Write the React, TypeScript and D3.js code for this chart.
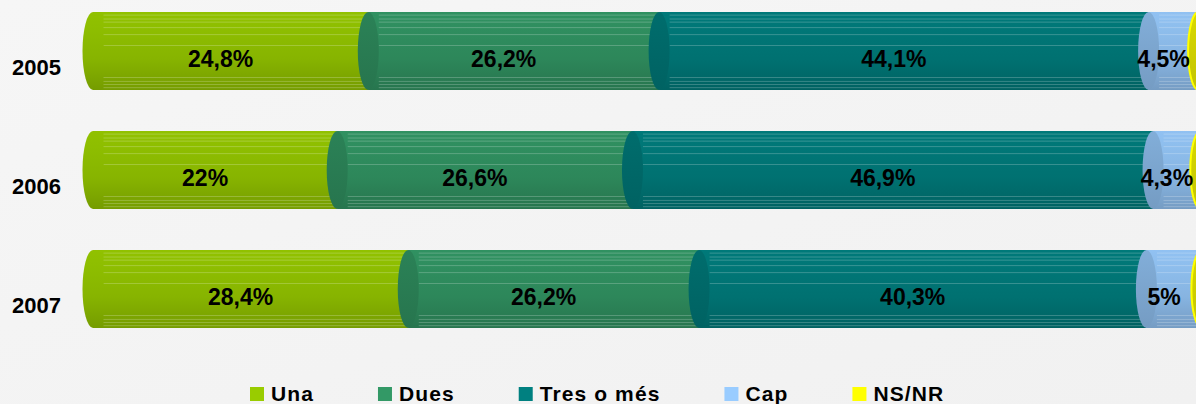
import React from 'react';
import * as d3 from 'd3';

const years = ['2005', '2006', '2007'];
const seriesNames = ['Una', 'Dues', 'Tres o més', 'Cap', 'NS/NR'];
const seriesColors = ['#99cc00', '#339966', '#008080', '#99ccff', '#ffff00'];
const una = [24.8, 22, 28.4];
const dues = [26.2, 26.6, 26.2];
const tres = [44.1, 46.9, 40.3];
const cap = [4.5, 4.3, 5];
const nsnr = [0.4, 0.2, 0.1];
const seriesValues = [una, dues, tres, cap, nsnr];

const W = 1196;
const H = 404;
const FONT = '"Liberation Sans", Arial, Helvetica, sans-serif';

function fmt(v: number) {
  return String(v).replace('.', ',') + '%';
}

function measure(text: string, font: string) {
  if (typeof document === 'undefined') return text.length * 11;
  const c = document.createElement('canvas').getContext('2d');
  if (!c) return text.length * 11;
  c.font = font;
  return c.measureText(text).width;
}

const stripeRel = [0.04, 0.09, 0.13, 0.2, 0.29, 0.43, 0.84, 0.89, 0.93, 0.97];

export default function App() {
  const x = d3.scaleLinear().domain([0, 100]).range([93, 1203]);
  const y = d3.scalePoint<string>().domain(years).range([51, 289]);
  const ry = 39;
  const rx = 10.5;

  const stack = years.map((yr, i) => {
    let acc = 0;
    return seriesNames.map((name, s) => {
      const v = seriesValues[s][i];
      const seg = { name, s, v, x0: acc, x1: acc + v, yr };
      acc += v;
      return seg;
    });
  });

  const legendFont = `bold 21px ${FONT}`;
  const ls = 1.1;
  let lx = 250;
  const legendItems = seriesNames.map((name, s) => {
    const item = { name, s, x: lx };
    lx += 21 + measure(name, legendFont) + name.length * ls + 64;
    return item;
  });

  return (
    <svg width={W} height={H} style={{ position: 'absolute', left: 0, top: 0 }} fontFamily={FONT}>
      <defs>
        <linearGradient id="bg" x1="0" y1="0" x2="1" y2="1">
          <stop offset="0" stopColor="#f6f6f6" />
          <stop offset="1" stopColor="#f1f1f1" />
        </linearGradient>
        {seriesColors.map((c, s) => {
          const base = d3.color(c)!;
          return (
            <React.Fragment key={s}>
              <linearGradient id={`body${s}`} x1="0" y1="0" x2="0" y2="1">
                <stop offset="0" stopColor={base.darker(0.15).formatHex()} />
                <stop offset="0.2" stopColor={base.darker(0.2).formatHex()} />
                <stop offset="0.6" stopColor={base.darker(0.35).formatHex()} />
                <stop offset="1" stopColor={base.darker(0.75).formatHex()} />
              </linearGradient>
              <linearGradient id={`cap${s}`} x1="0" y1="0" x2="0" y2="1">
                <stop offset="0" stopColor={base.darker(0.45).formatHex()} />
                <stop offset="1" stopColor={base.darker(0.75).formatHex()} />
              </linearGradient>
            </React.Fragment>
          );
        })}
      </defs>
      <rect x={0} y={0} width={W} height={H} fill="url(#bg)" />

      {stack.map((segs, i) => {
        const cy = y(years[i])!;
        return (
          <g key={years[i]}>
            {segs.map((seg) => {
              const a = x(seg.x0);
              const b = x(seg.x1);
              const isYellow = seg.s === 4;
              return (
                <g key={seg.name}>
                  <rect x={a} y={cy - ry} width={Math.max(0, b - a)} height={ry * 2} fill={`url(#body${seg.s})`} />
                  {stripeRel.map((r, k) => (
                    <line key={k} x1={a + rx} x2={b} y1={cy - ry + r * 2 * ry} y2={cy - ry + r * 2 * ry}
                      stroke="#ffffff" strokeOpacity={0.22} strokeWidth={1} />
                  ))}
                  <ellipse cx={a} cy={cy} rx={rx} ry={ry}
                    fill={seg.s === 0 ? `url(#body0)` : `url(#cap${seg.s})`}
                    stroke={isYellow ? '#ffff00' : 'none'} strokeWidth={isYellow ? 2 : 0} />
                </g>
              );
            })}
            {segs.filter((seg) => seg.v >= 1).map((seg) => (
              <text key={seg.name} x={(x(seg.x0) + x(seg.x1)) / 2 - 10} y={cy + 16}
                textAnchor="middle" fontSize={23} fontWeight="bold" fill="#000">
                {fmt(seg.v)}
              </text>
            ))}
            <text x={12} y={cy + 24} fontSize={22} fontWeight="bold" fill="#000">{years[i]}</text>
          </g>
        );
      })}

      {legendItems.map((it) => (
        <g key={it.name}>
          <rect x={it.x} y={387} width={14} height={14} fill={seriesColors[it.s]} />
          <text x={it.x + 21} y={401} fontSize={21} fontWeight="bold" letterSpacing={ls} fill="#000">{it.name}</text>
        </g>
      ))}
    </svg>
  );
}
